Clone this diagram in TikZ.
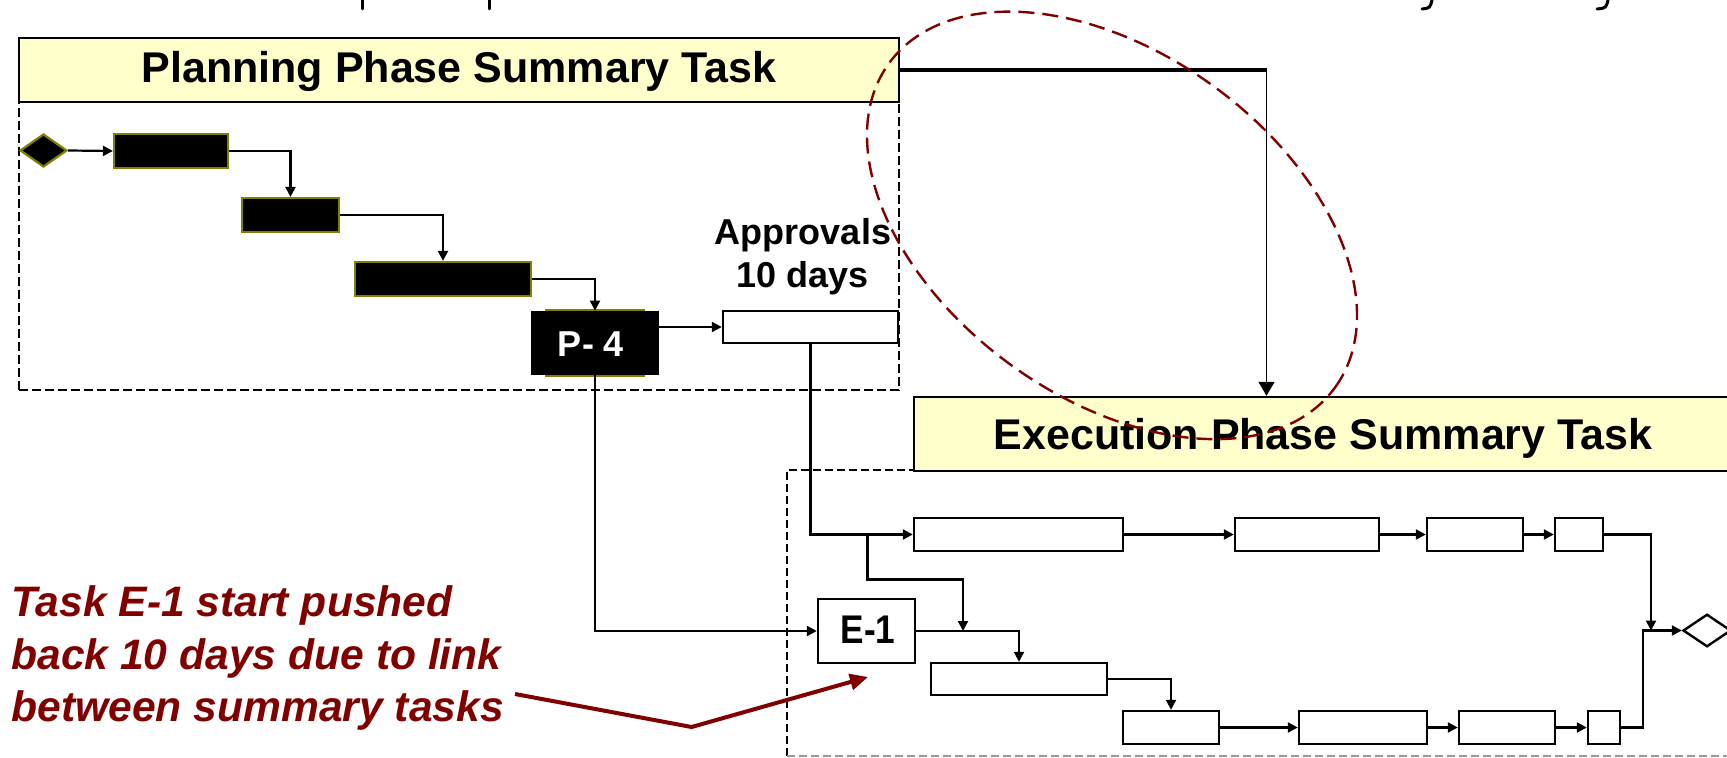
\documentclass[tikz,border=0pt]{standalone}
\usepackage{fontspec}
\setmainfont{Liberation Sans}
\usepackage{graphicx}
\usetikzlibrary{arrows.meta,shapes.geometric,fit}
\definecolor{hdrfill}{RGB}{255,255,204}
\definecolor{olivebd}{RGB}{128,128,0}
\definecolor{notered}{RGB}{128,0,0}

\begin{document}
\begin{tikzpicture}[x=0.5pt,y=-0.5pt,
  hdrbox/.style={draw=black,line width=1.2pt,fill=hdrfill,inner sep=0pt},
  hdrtext/.style={font=\fontsize{21.5}{25}\selectfont\bfseries,anchor=base,inner sep=0pt},
  ptask/.style={draw=olivebd,line width=1.1pt,fill=black,inner sep=0pt},
  etask/.style={draw=black,line width=1.2pt,fill=white,inner sep=0pt},
  area/.style={draw=black,line width=0.9pt,dash pattern=on 4.5pt off 2pt},
  link/.style={line width=1.1pt,-{Triangle[length=5pt,width=5pt]}},
  notetext/.style={font=\fontsize{21.3}{26}\selectfont\bfseries\itshape,text=notered,anchor=base west,inner sep=0pt},
  fragment/.style={line width=1.5pt,line cap=round}]

\useasboundingbox (0,0) rectangle (1727,758);
\fill[white] (0,0) rectangle (1727,758);
\clip (0,0) rectangle (1727,758);

% descenders of the line of text above
\draw[fragment] (362,0) -- (362,9);
\draw[fragment] (489,0) -- (489,9);
\draw[fragment] (1432,0) .. controls (1430,8) .. (1422,9);
\draw[fragment] (1608,0) .. controls (1606,8) .. (1597,9);

% ---------- planning phase ----------
\node[area,fit={(19,102) (899,390)},inner sep=0pt] (PA) {};
\node[hdrbox,fit={(19,38) (899,102)}] (PH) {};
\node[hdrtext] (PHt) at (459,83) {Planning Phase Summary Task};

\node[diamond,draw=olivebd,fill=black,line width=1.1pt,inner sep=0pt,
      minimum width=23.5pt,minimum height=16.5pt] (P0) at (43.5,150.5) {};
\node[ptask,fit={(114,134) (228,168)}] (P1) {};
\node[ptask,fit={(242,198) (339,232)}] (P2) {};
\node[ptask,fit={(355,262) (531,296)}] (P3) {};
\node[ptask,fit={(546,310) (644,376)}] (P4o) {};
\node[fill=black,inner sep=0pt,fit={(531,311) (659,375)}] (P4) {};
\node[font=\fontsize{18}{22}\selectfont\bfseries,text=white,anchor=base,inner sep=0pt]
      (P4t) at (591,356.5) {P- 4};

\node[etask,fit={(723,311) (898,343)}] (A) {};
\node[font=\fontsize{18}{22}\selectfont\bfseries,anchor=base,inner sep=0pt] (At1) at (803,245) {Approvals};
\node[font=\fontsize{18}{22}\selectfont\bfseries,anchor=base,inner sep=0pt] (At2) at (803,288) {10 days};

\draw[link] (P0.east) -- (P1.west);
\draw[link] (P1.east) -| (P2.north);
\draw[link] (P2.east) -| (P3.north);
\draw[link] (P3.east) -| (P4.north);
\draw[link] (A.west -| P4.east) -- (A.west);

% ---------- execution phase ----------
\draw[black,line width=0.8pt,dash pattern=on 4pt off 2pt] (1745,470) -- (787,470) -- (787,756);
\draw[black!40,line width=0.8pt,dash pattern=on 4pt off 2pt] (787,756) -- (1745,756);
\node[inner sep=0pt,fit={(787,470) (1745,756)}] (EA) {};
\node[hdrbox,fit={(914,397) (1745,471)}] (EH) {};
\node[hdrtext] (EHt) at (1323,450) {Execution Phase Summary Task};

\node[etask,fit={(818,599) (915,663)}] (E1) {};
\node[anchor=base,inner sep=0pt] (E1t) at (868,643.5)
      {\scalebox{0.88}[1]{\fontsize{20}{24}\selectfont\bfseries E-1}};

\node[etask,fit={(914,518) (1123,551)}] (T1) {};
\node[etask,fit={(1235,518) (1379,551)}] (T2) {};
\node[etask,fit={(1427,518) (1523,551)}] (T3) {};
\node[etask,fit={(1555,518) (1603,551)}] (T4) {};

\node[etask,fit={(931,663) (1107,695)}] (B1) {};
\node[etask,fit={(1123,711) (1219,744)}] (B2) {};
\node[etask,fit={(1299,711) (1427,744)}] (B3) {};
\node[etask,fit={(1459,711) (1555,744)}] (B4) {};
\node[etask,fit={(1588,711) (1620,744)}] (B5) {};

\node[diamond,draw=black,fill=white,line width=1.2pt,inner sep=0pt,
      minimum width=24pt,minimum height=16.3pt] (ED) at (1707,630.5) {};

% links between the summary tasks
\coordinate (hk) at (1266.5,70);
\draw[line width=2pt] (PH.east) -- (hk);
\draw[line width=0.7pt,-{Triangle[length=7pt,width=8pt]}] (hk) -- (hk |- EH.north);

\draw[link] (P4.south) |- (E1.west);
\draw[link] (A.south) |- (T1.west);

\coordinate (j1) at (867.5,534.5);
\coordinate (j2) at (963,579.5);
\draw[link] (j1) |- (j2) -- (j2 |- E1.east);

\draw[link] (T1.east) -- (T2.west);
\draw[link] (T2.east) -- (T3.west);
\draw[link] (T3.east) -- (T4.west);
\coordinate (mtop) at (1651,630.5);
\draw[link] (T4.east) -| (mtop);

\draw[link] (E1.east) -| (B1.north);
\draw[link] (B1.east) -| (B2.north);
\draw[link] (B2.east) -- (B3.west);
\draw[link] (B3.east) -- (B4.west);
\draw[link] (B4.east) -- (B5.west);
\coordinate (mbot) at (1643.3,630.5);
\draw[link] (B5.east) -| (mbot) -- (ED.west);

% highlight ring round the summary link
\draw[notered,line width=1.2pt,dash pattern=on 8pt off 4pt,
      rotate around={-36:(1112,225.4)}]
      (1112,225.4) ellipse [x radius=137.85pt,y radius=86.15pt];

% note
\node[notetext] (N1) at (11,616.7) {Task E-1 start pushed};
\node[notetext] (N2) at (11,669.5) {back 10 days due to link};
\node[notetext] (N3) at (11,721.5) {between summary tasks};
\coordinate (n0) at (515,694);
\coordinate (n1) at (691.6,727);
\coordinate (n2) at (868,677);
\draw[notered,line width=2pt,-{Triangle[length=9pt,width=8pt]}] (n0) -- (n1) -- (n2);

\end{tikzpicture}
\end{document}
